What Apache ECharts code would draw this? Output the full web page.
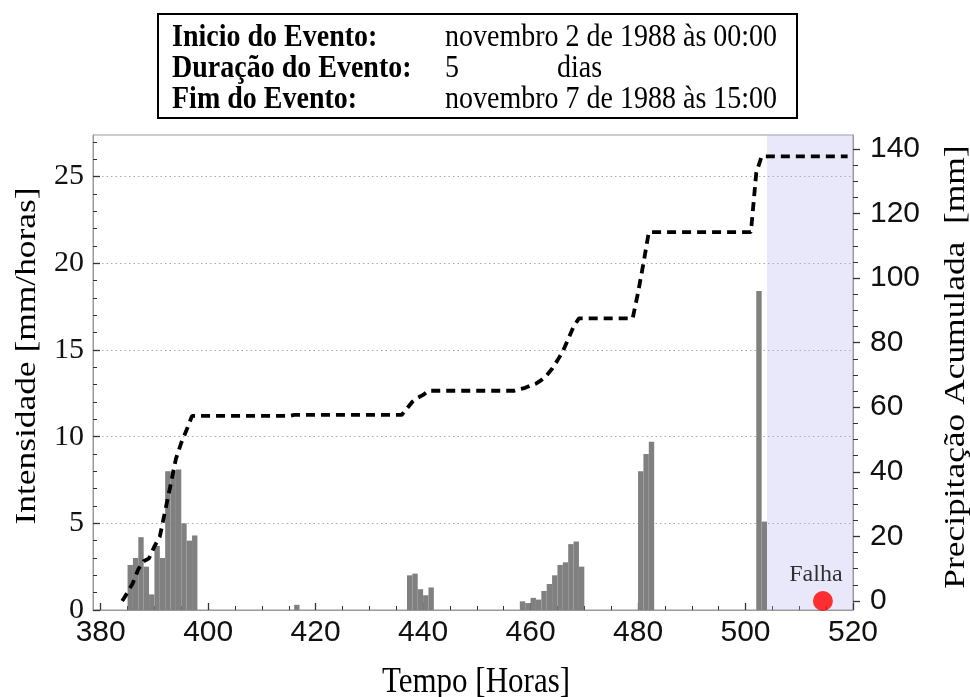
<!DOCTYPE html>
<html><head><meta charset="utf-8">
<script src="https://cdn.jsdelivr.net/npm/echarts@6/dist/echarts.min.js"></script>
<style>html,body{margin:0;padding:0;background:#fff}#c{width:970px;height:697px}</style>
</head><body><div id="c"></div>
<script>
// ---- data ----
const barHours  = [385,386,387,388,389,390,391,392,393,394,395,396,397, 416, 437,438,439,440,441,
                   458,459,460,461,462,463,464,465,466,467,468,469, 480,481,482, 502,503];
const barValues = [2.6,3.0,4.2,2.5,0.9,3.7,3.0,8.0,8.0,8.1,5.0,4.0,4.3, 0.3, 2.0,2.1,1.2,0.85,1.3,
                   0.5,0.4,0.7,0.6,1.1,1.5,2.0,2.6,2.75,3.8,3.95,2.5, 8.0,9.0,9.7, 18.4,5.1];
const cumHours  = [384,385,386,387,388,389,390,391,392,393,394,395,396,397,415,416,436,437,438,439,440,441,
                   457,458,459,460,461,462,463,464,465,466,467,468,469,479,480,481,482,501,502,503,519];
const cumValues = [0,2.6,5.6,9.8,12.3,13.2,16.9,19.9,27.9,35.9,44.0,49.0,53.0,57.3,57.3,57.6,57.6,59.6,61.7,62.9,63.8,65.1,
                   65.1,65.6,66.0,66.7,67.3,68.4,69.9,71.9,74.5,77.3,81.1,85.0,87.5,87.5,95.5,104.5,114.2,114.2,132.6,137.7,137.7];
const failurePoint = [514.4, 0];
const failureLabel = 'Falha';
const shadeStart = 504, shadeEnd = 520;
const xTickLabels = [380,400,420,440,460,480,500,520];
const xMinorTicks = [380,385,390,395,400,405,410,415,420,425,430,435,440,445,450,455,460,465,470,475,480,485,490,495,500,505,510,515,520];
const leftTickLabels = [0,5,10,15,20,25];
const leftMinorTicks = [0,1,2,3,4,5,6,7,8,9,10,11,12,13,14,15,16,17,18,19,20,21,22,23,24,25,26,27];
const rightTickLabels = [0,20,40,60,80,100,120,140];
const rightMinorTicks = [0,5,10,15,20,25,30,35,40,45,50,55,60,65,70,75,80,85,90,95,100,105,110,115,120,125,130,135,140];
const headerLabels = ['Inicio do Evento:', 'Duração do Evento:', 'Fim do Evento:'];
const headerValues = ['novembro 2 de 1988 às 00:00', '5', 'novembro 7 de 1988 às 15:00'];
const headerUnit = 'dias';
const xTitle = 'Tempo [Horas]';
const yLeftTitle = 'Intensidade [mm/horas]';
const yRightTitle = 'Precipitação Acumulada  [mm]';

const SERIF = '"Liberation Serif", "DejaVu Serif", serif';
const SANS = '"Liberation Sans", Arial, sans-serif';
const XMIN = 378.57, XMAX = 520;
const LMIN = 0, LMAX = 27.4;
const RMIN = -2.8, RMAX = 144.3;

const chart = echarts.init(document.getElementById('c'));

function txt(x, y, text, font, extra) {
  return Object.assign({
    type: 'text', x: x, y: y, scaleY: 1.15, silent: true,
    style: { text: text, font: font, fill: '#000', textAlign: 'left', textVerticalAlign: 'middle', align: 'left', verticalAlign: 'middle' }
  }, extra || {});
}

const rowY = [38, 69, 100];
const graphic = [
  { type: 'rect', shape: { x: 158, y: 14, width: 639, height: 104 }, style: { fill: '#fff', stroke: '#000', lineWidth: 2 }, silent: true },
  txt(172, rowY[0], headerLabels[0], 'bold 28px ' + SERIF),
  txt(172, rowY[1], headerLabels[1], 'bold 28px ' + SERIF),
  txt(172, rowY[2], headerLabels[2], 'bold 28px ' + SERIF),
  txt(445, rowY[0], headerValues[0], '28px ' + SERIF),
  txt(445, rowY[1], headerValues[1], '28px ' + SERIF),
  txt(557, rowY[1], headerUnit, '28px ' + SERIF),
  txt(445, rowY[2], headerValues[2], '28px ' + SERIF),
  { type: 'text', x: 476, y: 683, scaleY: 1.15, silent: true,
    style: { text: xTitle, font: '31px ' + SERIF, fill: '#000', textAlign: 'center', textVerticalAlign: 'middle', align: 'center', verticalAlign: 'middle' } },
  { type: 'text', x: 27, y: 356, rotation: Math.PI / 2, scaleX: 1.18, silent: true,
    style: { text: yLeftTitle, font: '30px ' + SERIF, fill: '#000', textAlign: 'center', textVerticalAlign: 'middle', align: 'center', verticalAlign: 'middle' } },
  { type: 'text', x: 956, y: 367, rotation: Math.PI / 2, scaleX: 1.18, silent: true,
    style: { text: yRightTitle, font: '30px ' + SERIF, fill: '#000', textAlign: 'center', textVerticalAlign: 'middle', align: 'center', verticalAlign: 'middle' } }
];

const option = {
  animation: false,
  backgroundColor: '#fff',
  grid: { left: 93, right: 117, top: 135, bottom: 87, show: true, borderColor: '#999', borderWidth: 1, backgroundColor: 'transparent' },
  graphic: graphic,
  xAxis: [
    { type: 'value', min: XMIN, max: XMAX, position: 'bottom',
      axisLine: { show: true, onZero: false, lineStyle: { color: '#999', width: 1 } },
      axisTick: { show: true, inside: true, length: 7, customValues: xTickLabels, lineStyle: { color: '#333', width: 1.3 } },
      axisLabel: { customValues: xTickLabels, fontFamily: SANS, fontSize: 30, color: '#111', margin: 8 },
      splitLine: { show: false } },
    { type: 'value', min: XMIN, max: XMAX, position: 'bottom',
      axisLine: { show: false, onZero: false },
      axisTick: { show: true, inside: true, length: 4, customValues: xMinorTicks, lineStyle: { color: '#333', width: 1 } },
      axisLabel: { show: false }, splitLine: { show: false } }
  ],
  yAxis: [
    { type: 'value', min: LMIN, max: LMAX, interval: 5, position: 'left',
      axisLine: { show: true, lineStyle: { color: '#999', width: 1 } },
      axisTick: { show: true, inside: true, length: 7, customValues: leftTickLabels, lineStyle: { color: '#333', width: 1.3 } },
      axisLabel: { customValues: leftTickLabels, fontFamily: SERIF, fontSize: 30, color: '#111', margin: 9 },
      splitLine: { show: true, lineStyle: { color: '#aaa', width: 1.2, type: [1.5, 3] } } },
    { type: 'value', min: RMIN, max: RMAX, position: 'right',
      axisLine: { show: true, lineStyle: { color: '#999', width: 1 } },
      axisTick: { show: true, inside: false, length: 7, customValues: rightTickLabels, lineStyle: { color: '#333', width: 1.3 } },
      axisLabel: { customValues: rightTickLabels, fontFamily: SANS, fontSize: 30, color: '#111', margin: 17 },
      splitLine: { show: false } },
    { type: 'value', min: LMIN, max: LMAX, position: 'left',
      axisLine: { show: false },
      axisTick: { show: true, inside: true, length: 4, customValues: leftMinorTicks, lineStyle: { color: '#333', width: 1 } },
      axisLabel: { show: false }, splitLine: { show: false } },
    { type: 'value', min: RMIN, max: RMAX, position: 'right',
      axisLine: { show: false },
      axisTick: { show: true, inside: false, length: 5, customValues: rightMinorTicks, lineStyle: { color: '#333', width: 1 } },
      axisLabel: { show: false }, splitLine: { show: false } }
  ],
  series: [
    { type: 'custom', xAxisIndex: 0, yAxisIndex: 0, z: 2,
      data: barHours.map((h, i) => [h, barValues[i]]),
      encode: { x: 0, y: 1 },
      renderItem: function (params, api) {
        const t = api.value(0), v = api.value(1);
        const p0 = api.coord([t, v]);
        const p1 = api.coord([t + 1, 0]);
        return { type: 'rect', shape: { x: p0[0], y: p0[1], width: p1[0] - p0[0], height: p1[1] - p0[1] },
                 style: { fill: '#808080' } };
      },
      markArea: { silent: true, itemStyle: { color: 'rgba(180,180,240,0.3)' },
                  data: [[{ xAxis: shadeStart }, { xAxis: shadeEnd }]] } },
    { type: 'line', xAxisIndex: 0, yAxisIndex: 1, z: 3,
      data: cumHours.map((h, i) => [h, cumValues[i]]),
      showSymbol: false, symbol: 'none',
      lineStyle: { color: '#000', width: 3.8, type: [9, 6] } },
    { type: 'scatter', xAxisIndex: 0, yAxisIndex: 1, z: 4,
      data: [failurePoint], symbolSize: 20,
      itemStyle: { color: '#ff0000' },
      label: { show: true, formatter: failureLabel, position: 'top', distance: 4, offset: [-7, 0],
               fontFamily: SERIF, fontSize: 24, color: '#000' } }
  ]
};
chart.setOption(option);
</script>
</body></html>
